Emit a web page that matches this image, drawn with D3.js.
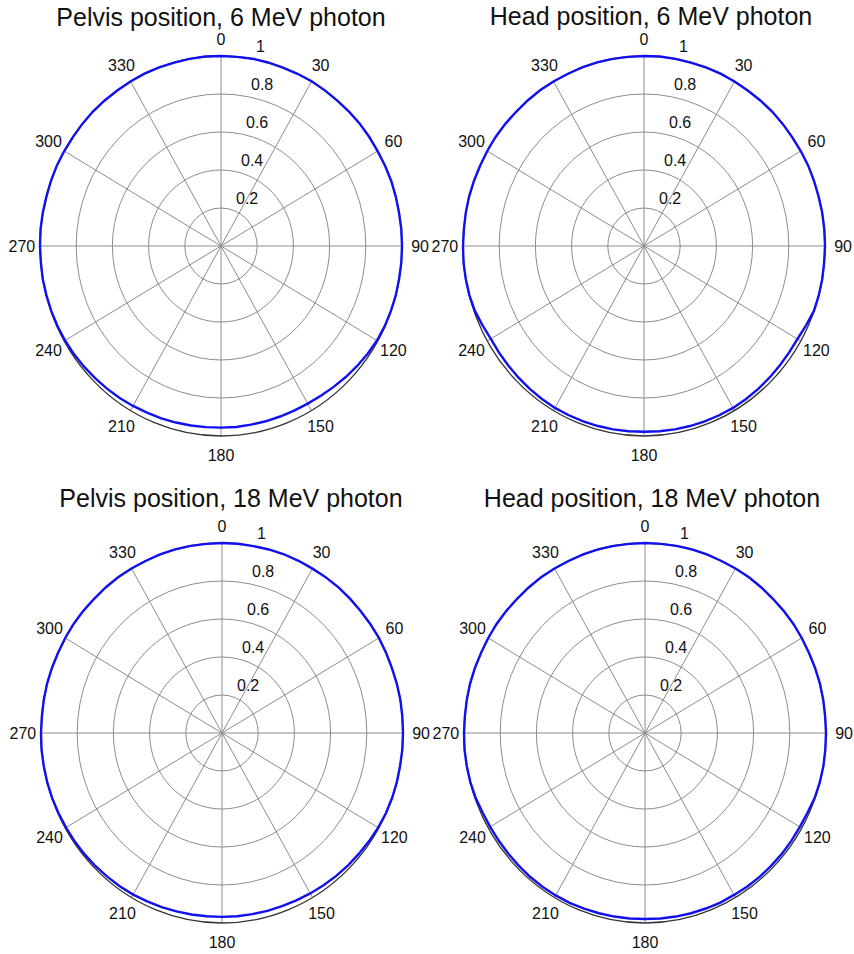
<!DOCTYPE html>
<html><head><meta charset="utf-8">
<script src="https://cdn.jsdelivr.net/npm/d3@7"></script>
<style>body{margin:0;background:#fff}svg{display:block}</style>
</head><body>
<script>
// ---- data ----
const titles = ["Pelvis position, 6 MeV photon","Head position, 6 MeV photon","Pelvis position, 18 MeV photon","Head position, 18 MeV photon"];
const angleTicks = [0,30,60,90,120,150,180,210,240,270,300,330];
const radialTicks = [0.2,0.4,0.6,0.8,1];
const radialTickLabels = ["0.2","0.4","0.6","0.8","1"];
const angles = d3.range(0,360,5);
const pelvis6 = [1.000,0.999,1.001,1.000,0.999,1.000,1.001,1.000,0.999,1.000,1.001,1.000,0.999,1.000,1.001,1.000,0.999,1.000,
 1.000,1.000,0.999,1.000,0.999,0.998,0.995,0.989,0.982,0.975,0.968,0.962,0.958,0.956,0.955,0.955,0.955,0.956,
 0.956,0.957,0.959,0.962,0.965,0.968,0.972,0.976,0.980,0.984,0.988,0.992,0.995,0.997,0.998,0.999,1.000,0.999,
 1.000,1.001,1.000,0.999,1.000,1.001,1.000,0.999,1.000,1.001,1.000,0.999,1.000,1.001,1.000,0.999,1.000,1.001];
const head6 = [1.000,1.001,1.000,0.999,1.000,1.001,1.000,0.999,1.000,1.001,1.000,0.999,1.000,1.001,1.000,0.999,1.000,1.000,
 1.000,0.999,1.000,1.000,0.999,0.988,0.979,0.978,0.979,0.980,0.982,0.983,0.984,0.983,0.982,0.981,0.980,0.979,
 0.978,0.979,0.980,0.981,0.982,0.983,0.984,0.983,0.982,0.980,0.979,0.978,0.977,0.985,0.995,0.999,1.000,1.001,
 1.000,0.999,1.000,1.001,1.000,0.999,1.000,1.001,1.000,0.999,1.000,1.001,1.000,0.999,1.000,1.001,1.000,0.999];
const pelvis18 = [1.000,1.000,0.999,1.000,1.001,1.000,0.999,1.000,1.001,1.000,0.999,1.000,1.001,1.000,0.999,1.000,1.001,1.000,
 1.000,1.000,0.999,1.000,1.000,0.999,0.996,0.992,0.988,0.985,0.982,0.978,0.975,0.972,0.970,0.969,0.968,0.968,
 0.968,0.968,0.970,0.972,0.975,0.978,0.982,0.985,0.987,0.990,0.992,0.994,0.995,0.997,0.999,1.000,1.000,1.001,
 1.000,0.999,1.000,1.001,1.000,0.999,1.000,1.001,1.000,0.999,1.000,1.001,1.000,0.999,1.000,1.001,1.000,0.999];
const head18 = [1.000,0.999,1.000,1.001,1.000,0.999,1.000,1.001,1.000,0.999,1.000,1.001,1.000,0.999,1.000,1.001,1.000,0.999,
 1.000,1.000,1.001,1.000,0.998,0.991,0.988,0.988,0.988,0.987,0.987,0.986,0.984,0.985,0.983,0.982,0.981,0.980,
 0.979,0.980,0.981,0.982,0.984,0.986,0.987,0.988,0.988,0.987,0.987,0.987,0.988,0.990,0.996,0.999,1.000,1.001,
 1.000,0.999,1.000,1.001,1.000,0.999,1.000,1.001,1.000,0.999,1.000,1.001,1.000,0.999,1.000,1.001,1.000,0.999];
const seriesList = [pelvis6, head6, pelvis18, head18];

// ---- layout ----
const W = 854, H = 954;
const panels = [
  {cx:221, cy:246, tx:221, ty:26},
  {cx:644, cy:246, tx:651, ty:25},
  {cx:222, cy:733, tx:231, ty:507},
  {cx:645, cy:733, tx:652, ty:507}
];
const RX = 181, RY = 190;
const font = "'Liberation Sans', Arial, sans-serif";

const svg = d3.select("body").append("svg").attr("width", W).attr("height", H);

panels.forEach((p, i) => {
  const x = d3.scaleLinear().domain([-1,1]).range([p.cx-RX, p.cx+RX]);
  const y = d3.scaleLinear().domain([-1,1]).range([p.cy+RY, p.cy-RY]);
  const rad = a => a*Math.PI/180;
  const px = (r,a) => x(r*Math.sin(rad(a)));
  const py = (r,a) => y(r*Math.cos(rad(a)));
  const g = svg.append("g");

  // rings
  g.selectAll("ellipse.ring").data(radialTicks.slice(0,-1)).enter().append("ellipse")
    .attr("cx", x(0)).attr("cy", y(0))
    .attr("rx", d => x(d)-x(0)).attr("ry", d => y(0)-y(d))
    .attr("fill","none").attr("stroke","#8c8c8c").attr("stroke-width",1);
  // spokes
  g.selectAll("line.spoke").data(angleTicks.filter(a => a < 180)).enter().append("line")
    .attr("x1", d => px(1,d)).attr("y1", d => py(1,d))
    .attr("x2", d => px(1,d+180)).attr("y2", d => py(1,d+180))
    .attr("stroke","#8c8c8c").attr("stroke-width",1);
  // outer reference circle
  g.append("ellipse").attr("cx", x(0)).attr("cy", y(0))
    .attr("rx", x(1)-x(0)).attr("ry", y(0)-y(1))
    .attr("fill","none").attr("stroke","#333").attr("stroke-width",1.3);

  // series
  const vals = seriesList[i];
  const line = d3.line().x((d,k) => px(d, angles[k])).y((d,k) => py(d, angles[k])).curve(d3.curveLinearClosed);
  g.append("path").attr("d", line(vals)).attr("fill","none").attr("stroke","#1010f0").attr("stroke-width",2.4);

  // angle labels
  g.selectAll("text.ang").data(angleTicks).enter().append("text")
    .attr("x", d => px(1.1,d)).attr("y", d => py(1.1,d) + (d === 0 ? 2 : 0))
    .attr("text-anchor","middle").attr("dominant-baseline","central")
    .attr("font-family", font).attr("font-size", 16).attr("fill","#111")
    .text(d => d);
  // radial labels
  g.selectAll("text.rad").data(radialTicks).enter().append("text")
    .attr("x", d => x(0) + 10 + 25*d).attr("y", d => y(d) - 10)
    .attr("dominant-baseline","central")
    .attr("font-family", font).attr("font-size", 16).attr("fill","#111")
    .text((d,k) => radialTickLabels[k]);
  // title
  g.append("text").attr("x", p.tx).attr("y", p.ty).attr("text-anchor","middle")
    .attr("font-family", font).attr("font-size", 25).attr("fill","#111")
    .text(titles[i]);
});
</script>
</body></html>
